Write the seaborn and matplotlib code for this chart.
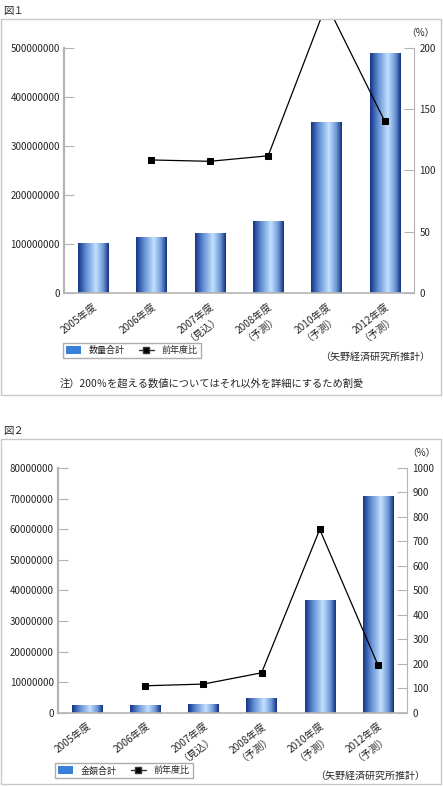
import numpy as np
import pandas as pd
import matplotlib
matplotlib.use("Agg")
import matplotlib.pyplot as plt
import seaborn as sns
from matplotlib.patches import Patch, Rectangle
from matplotlib.lines import Line2D
from matplotlib.colors import LinearSegmentedColormap
from matplotlib.transforms import Bbox, TransformedBbox

sns.set_style("white")
plt.rcParams["font.family"] = ["Noto Sans CJK JP", "DejaVu Sans"]

# data
years = ["2005年度", "2006年度", "2007年度\n（見込）", "2008年度\n（予測）",
         "2010年度\n（予測）", "2012年度\n（予測）"]
qty_total = [103e6, 114e6, 122e6, 147e6, 348e6, 489e6]
qty_ratio = [np.nan, 108.6, 107.5, 112.0, 236.0, 140.0]
amount_total = [2.5e6, 2.6e6, 2.95e6, 4.8e6, 36.7e6, 71.0e6]
amount_ratio = [np.nan, 110.0, 117.0, 163.0, 749.0, 195.0]

left_ticks_1 = np.arange(0, 5e8 + 1, 1e8)
right_ticks_1 = np.arange(0, 201, 50)
left_ticks_2 = np.arange(0, 8e7 + 1, 1e7)
right_ticks_2 = np.arange(0, 1001, 100)

W, H = 443, 786
fig = plt.figure(figsize=(W / 100, H / 100), dpi=100)

bar_cmap = LinearSegmentedColormap.from_list(
    "bar", [(0, "#17348a"), (0.25, "#5f8dd2"), (0.58, "#c3e0ff"),
            (0.82, "#6f9ad8"), (1, "#163282")])
grad = np.linspace(0, 1, 64).reshape(1, -1)
GRAY = "#b4b4b4"
FS = 7


def px_rect(x0, y0, x1, y1):
    return [x0 / W, 1 - y1 / H, (x1 - x0) / W, (y1 - y0) / H]


def draw_panel(box, frame, values, ratio, lticks, rticks, label, fig_no,
               pct_y, legend_xy, source_xy, clip_top):
    ax = fig.add_axes(px_rect(*box))
    sns.barplot(x=years, y=values, ax=ax, color="#3a7fd5", width=0.52)
    # horizontal gradient inside each bar
    for p in list(ax.patches):
        x, w, h = p.get_x(), p.get_width(), p.get_height()
        im = ax.imshow(grad, cmap=bar_cmap, extent=[x, x + w, 0, h],
                       aspect="auto", zorder=p.get_zorder() + 0.1)
        im.set_clip_path(p)
    ax.set_xlim(-0.5, len(years) - 0.5)
    ax.set_ylim(lticks[0], lticks[-1])
    ax.set_yticks(lticks)
    ax.set_yticklabels([f"{int(v)}" for v in lticks], fontsize=FS)
    ax.tick_params(axis="y", direction="in", length=7, color=GRAY, pad=3,
                   width=0.8)
    ax.set_xticks(np.arange(len(years)))
    ax.set_xticklabels(years, fontsize=7.3, rotation=38, ha="right",
                       rotation_mode="anchor", multialignment="center",
                       linespacing=1.05)
    ax.tick_params(axis="x", length=0, pad=6)
    ax.set_xticks(np.arange(0.5, len(years) - 1, 1), minor=True)
    ax.tick_params(axis="x", which="minor", length=4, color=GRAY,
                   direction="inout")
    for s in ["top", "right"]:
        ax.spines[s].set_visible(False)
    ax.spines["left"].set_color(GRAY)
    ax.spines["left"].set_linewidth(1.6)
    ax.spines["bottom"].set_color(GRAY)
    ax.spines["bottom"].set_linewidth(1.2)
    ax.set_xlabel("")
    ax.set_ylabel("")

    ax2 = ax.twinx()
    df = pd.DataFrame({"x": np.arange(len(years)), "y": ratio}).dropna()
    sns.lineplot(data=df, x="x", y="y", ax=ax2, color="black", marker="s",
                 markersize=4.5, markeredgecolor="black", linewidth=0.9)
    ax2.set_xlim(-0.5, len(years) - 0.5)
    ax2.set_ylim(rticks[0], rticks[-1])
    ax2.set_yticks(rticks)
    ax2.set_yticklabels([f"{int(v)}" for v in rticks], fontsize=FS)
    ax2.tick_params(axis="y", direction="in", length=7, color=GRAY, pad=4,
                    width=0.8)
    ax2.set_xlabel("")
    ax2.set_ylabel("")
    for s in ["top", "left", "bottom"]:
        ax2.spines[s].set_visible(False)
    ax2.spines["right"].set_color(GRAY)
    ax2.spines["right"].set_linewidth(0.8)
    # the ratio line may run above the plot, up to the frame edge
    clip = TransformedBbox(Bbox.from_extents(
        frame[0] / W, 1 - frame[3] / H, frame[2] / W, 1 - clip_top / H),
        fig.transFigure)
    for ln in ax2.lines:
        ln.set_clip_box(clip)

    fig.patches.append(Rectangle(
        (frame[0] / W, 1 - frame[3] / H), (frame[2] - frame[0]) / W,
        (frame[3] - frame[1]) / H, transform=fig.transFigure, fill=False,
        edgecolor="#c8c8c8", linewidth=1.0))
    fig.text(3 / W, 1 - fig_no[1] / H, fig_no[0], fontsize=7.5,
             va="center", ha="left")
    fig.text(pct_y[0] / W, 1 - pct_y[1] / H, "（%）", fontsize=FS,
             va="center", ha="center")

    handles = [Patch(facecolor="#3a80d8", edgecolor="none"),
               Line2D([], [], color="#333333", marker="s", markersize=4,
                      markerfacecolor="black", linewidth=1)]
    fig.legend(handles, [label, "前年度比"], loc="upper left",
               bbox_to_anchor=(legend_xy[0] / W, 1 - legend_xy[1] / H),
               ncol=2, fontsize=6.5, frameon=True, fancybox=False,
               edgecolor="#999999", borderpad=0.35, handlelength=1.6,
               handleheight=1.0, columnspacing=1.6, handletextpad=0.9,
               borderaxespad=0)
    fig.text(source_xy[0] / W, 1 - source_xy[1] / H, "（矢野経済研究所推計）",
             fontsize=7.2, ha="right", va="center")
    return ax


draw_panel((64, 48, 414, 293), (1, 19, 441, 395), qty_total, qty_ratio,
           left_ticks_1, right_ticks_1, "数量合計", ("図１", 11), (420, 33),
           (63, 343), (430, 357), 19)
fig.text(60 / W, 1 - 384 / H,
         "注）200％を超える数値についてはそれ以外を詳細にするため割愛",
         fontsize=7.4, ha="left", va="center")

draw_panel((58, 468, 407, 712.7), (1, 439, 441, 784), amount_total,
           amount_ratio, left_ticks_2, right_ticks_2, "金額合計",
           ("図２", 431), (421, 453), (55, 763), (425, 776), 439)

fig.savefig("out.png", dpi=100)
